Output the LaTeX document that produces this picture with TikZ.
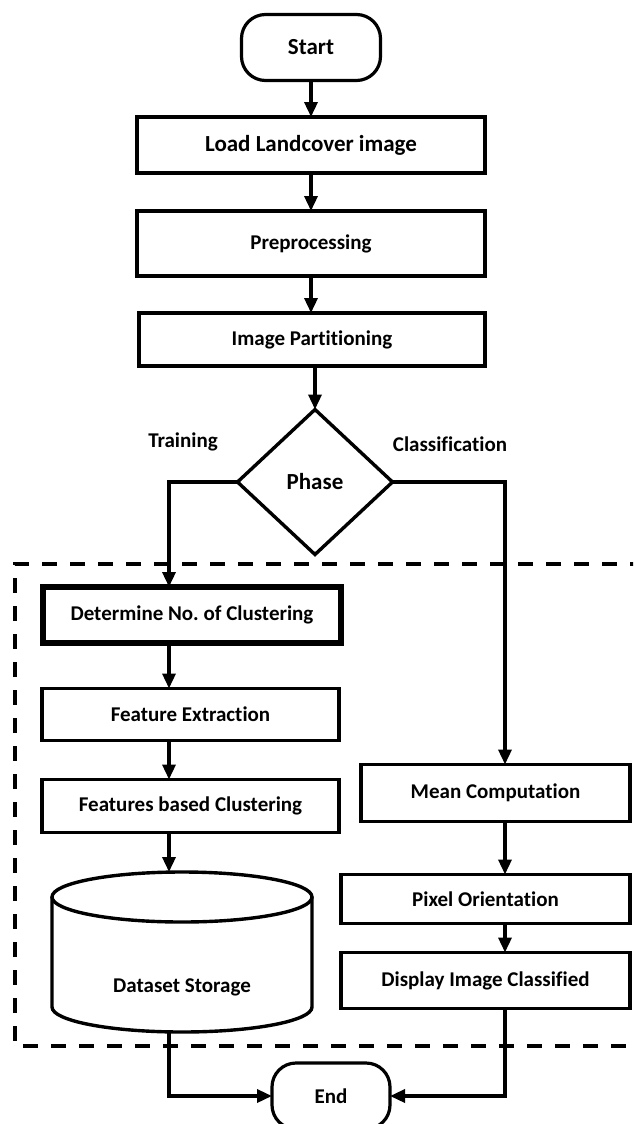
\documentclass[tikz,border=0pt]{standalone}
\usepackage{fontspec}
\setmainfont{Carlito}[Ligatures=NoCommon]
\usetikzlibrary{shapes.geometric,arrows.meta}
\frenchspacing
\begin{document}
\begin{tikzpicture}[x=1pt,y=-1pt,
  every node/.style={font=\bfseries\fontsize{21}{25}\selectfont, inner sep=0pt, outer sep=0pt},
  bigtxt/.style={font=\bfseries\fontsize{23}{27}\selectfont},
  box/.style={draw, line width=3.6pt, fill=white},
  thickbox/.style={draw, line width=5.5pt, fill=white},
  term/.style={draw, line width=3.2pt, rounded corners=24pt, fill=white},
  decision/.style={draw, diamond, line width=3.4pt, fill=white},
  conn/.style={line width=3.4pt},
  arr/.style={line width=3.4pt, -{Triangle[length=15pt,width=13pt]}},
  cyl/.style={line width=3.4pt},
  dashbox/.style={line width=4.5pt, dash pattern=on 15pt off 13pt}]
\useasboundingbox (0,0) rectangle (633,1124);
\clip (0,0) rectangle (633,1124);

% dashed region
\draw[dashbox] (645,564) -- (15,564) -- (15,1046) -- (645,1046);

% branch columns
\coordinate (lx) at (169,0);
\coordinate (rx) at (505,0);

% nodes
\node[term, bigtxt, minimum width=139, minimum height=66] (start) at (311,47.5) {Start};
\node[box, bigtxt, minimum width=348, minimum height=56] (load) at (311,145) {Load Landcover image};
\node[box, minimum width=348, minimum height=65] (prep) at (311,243.5) {Preprocessing};
\node[box, minimum width=346, minimum height=53] (ip) at (312,339.5) {Image Partitioning};
\node[decision, bigtxt, minimum width=155, minimum height=145] (ph) at (315,482) {Phase};
\node (tr) at (183,442) {Training};
\node (cl) at (450,444) {Classification};

\node[thickbox, minimum width=298, minimum height=56] (det) at (192,615) {Determine No. of Clustering};
\node[box, minimum width=297, minimum height=52] (fe) at (190.5,714.5) {Feature Extraction};
\node[box, minimum width=297, minimum height=53] (fbc) at (190.5,806) {Features based Clustering};

\node[minimum width=260, minimum height=160] (ds) at (182,952) {};
\draw[cyl] (182,897) ellipse [x radius=130, y radius=25];
\draw[cyl] (52,897) -- (52,1007) arc[start angle=180, end angle=0, x radius=130, y radius=25] -- (312,897);
\node (dst) at (182,987) {Dataset Storage};

\node[box, minimum width=269, minimum height=57] (mean) at (495.5,793) {Mean Computation};
\node[box, minimum width=289, minimum height=49] (pix) at (485.5,899) {Pixel Orientation};
\node[box, minimum width=289, minimum height=56] (disp) at (485.5,980.5) {Display Image Classified};

\node[term, minimum width=118, minimum height=66] (end) at (331,1096) {End};

% connectors
\draw[arr] (start) -- (load);
\draw[arr] (load) -- (prep);
\draw[arr] (prep.south) -- (prep.south |- ip.north);
\draw[arr] (ip.south -| ph.north) -- (ph.north);
\draw[arr] (ph.west) -| (lx |- det.north);
\draw[arr] (ph.east) -| (rx |- mean.north);
\draw[arr] (lx |- det.south) -- (lx |- fe.north);
\draw[arr] (lx |- fe.south) -- (lx |- fbc.north);
\draw[arr] (lx |- fbc.south) -- (lx |- ds.north);
\draw[arr] (rx |- mean.south) -- (rx |- pix.north);
\draw[arr] (rx |- pix.south) -- (rx |- disp.north);
\draw[arr] (lx |- ds.south) |- (end.west);
\draw[arr] (rx |- disp.south) |- (end.east);
\end{tikzpicture}
\end{document}
